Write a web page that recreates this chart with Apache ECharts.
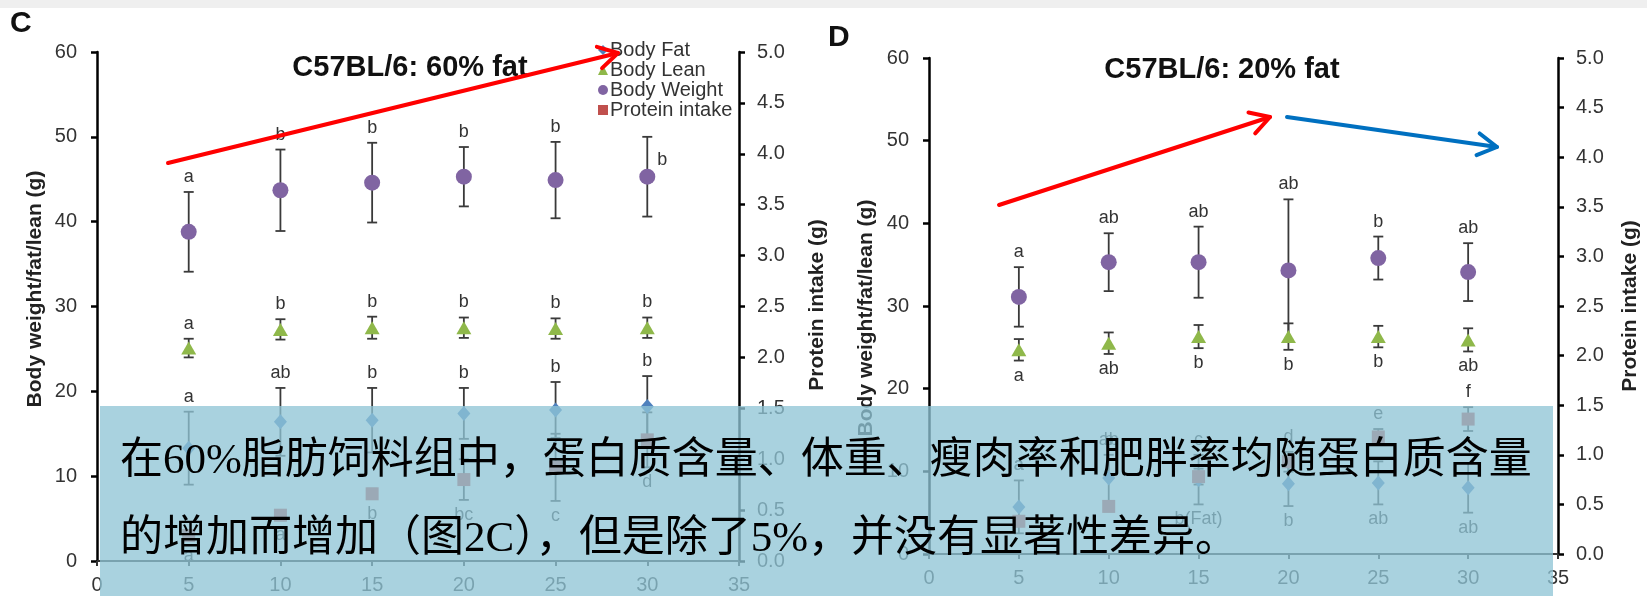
<!DOCTYPE html>
<html>
<head>
<meta charset="utf-8">
<script src="https://cdn.jsdelivr.net/npm/echarts@6/dist/echarts.min.js"></script>
<style>
  html, body { margin: 0; padding: 0; background: #ffffff; }
  #chart { width: 1647px; height: 596px; }
</style>
</head>
<body>
<div id="chart"></div>
<script>
// Dietary protein content (%) on the x axis
const proteinLevels = [5, 10, 15, 20, 25, 30];
const xTicks = [0, 5, 10, 15, 20, 25, 30, 35];

// Panel C — C57BL/6 on 60% fat diet (g)
const hfFat = [13.3, 16.4, 16.6, 17.4, 17.8, 18.2];
const hfFatErr = [4.3, 4.0, 3.8, 3.0, 3.3, 3.6];
const hfFatLetters = ['a', 'ab', 'b', 'b', 'b', 'b'];
const hfLean = [25.1, 27.3, 27.5, 27.5, 27.4, 27.5];
const hfLeanErr = [1.1, 1.2, 1.3, 1.2, 1.2, 1.2];
const hfLeanLetters = ['a', 'b', 'b', 'b', 'b', 'b'];
const hfWeight = [38.8, 43.7, 44.6, 45.3, 44.9, 45.3];
const hfWeightErr = [4.7, 4.8, 4.7, 3.5, 4.5, 4.7];
const hfWeightLetters = ['a', 'b', 'b', 'b', 'b', 'b'];
const hfProtein = [0.25, 0.45, 0.66, 0.80, 0.92, 1.19];
const hfProteinErr = [0.05, 0.05, 0.05, 0.20, 0.33, 0.27];
const hfProteinLetters = ['a', 'a', 'b', 'bc', 'c', 'd'];

// Panel D — C57BL/6 on 20% fat diet (g)
const lfFat = [5.7, 9.2, 9.0, 8.5, 8.6, 8.0];
const lfFatErr = [3.2, 2.8, 3.0, 2.7, 2.6, 3.0];
const lfFatLetters = ['a', 'ab', 'b(Fat)', 'b', 'ab', 'ab'];
const lfLean = [24.7, 25.5, 26.3, 26.3, 26.3, 25.9];
const lfLeanErr = [1.3, 1.3, 1.4, 1.6, 1.3, 1.4];
const lfLeanLetters = ['a', 'ab', 'b', 'b', 'b', 'ab'];
const lfWeight = [31.1, 35.3, 35.3, 34.3, 35.8, 34.1];
const lfWeightErr = [3.6, 3.5, 4.3, 8.6, 2.6, 3.5];
const lfWeightLetters = ['a', 'ab', 'ab', 'ab', 'b', 'ab'];
const lfProtein = [0.33, 0.48, 0.78, 0.93, 1.18, 1.36];
const lfProteinErr = [0.05, 0.05, 0.08, 0.10, 0.08, 0.12];
const lfProteinLetters = ['a', 'b', 'c', 'd', 'e', 'f'];

const FONT = '"Liberation Sans", Arial, sans-serif';
const CAPTION_FONT = '43px "Liberation Serif", "Noto Sans CJK SC", serif';
const COLORS = {
  fat: '#4f81bd',
  lean: '#8fb84a',
  weight: '#8064a2',
  protein: '#c0504d',
  bar: '#3a3a3a',
  text: '#333333'
};

const chart = echarts.init(document.getElementById('chart'));

function points(values) {
  return proteinLevels.map((x, i) => [x, values[i]]);
}

// Error bars with significance letters drawn in the series' own coordinates.
// side: 'top' | 'bottom' | 'right'; avoidTop: optional values whose upper
// whiskers the letter should also clear (same axis units).
function errorBars(name, xIdx, yIdx, values, errors, letters, cfg) {
  return {
    type: 'custom',
    name: name,
    xAxisIndex: xIdx,
    yAxisIndex: yIdx,
    silent: true,
    z: 2,
    data: proteinLevels.map((x, i) => [x, values[i], errors[i], i]),
    encode: { x: 0, y: 1 },
    renderItem: function (params, api) {
      const x = api.value(0), v = api.value(1), e = api.value(2), i = api.value(3);
      const top = api.coord([x, v + e]);
      const bot = api.coord([x, v - e]);
      const cap = 5;
      const line = { stroke: COLORS.bar, lineWidth: 1.8 };
      const children = [
        { type: 'line', shape: { x1: top[0], y1: top[1], x2: bot[0], y2: bot[1] }, style: line },
        { type: 'line', shape: { x1: top[0] - cap, y1: top[1], x2: top[0] + cap, y2: top[1] }, style: line },
        { type: 'line', shape: { x1: bot[0] - cap, y1: bot[1], x2: bot[0] + cap, y2: bot[1] }, style: line }
      ];
      const side = (cfg.sides && cfg.sides[i]) || cfg.side;
      let lx = top[0], ly, align = 'center';
      if (side === 'top') {
        let t = top[1];
        if (cfg.avoidTop) t = Math.min(t, api.coord([x, cfg.avoidTop[i]])[1]);
        ly = t - 15;
      } else if (side === 'bottom') {
        ly = bot[1] + 15;
      } else {
        lx = top[0] + 10; ly = top[1] + 23; align = 'left';
      }
      children.push({
        type: 'text',
        style: {
          text: letters[i], x: lx, y: ly, align: align, verticalAlign: 'middle',
          fill: COLORS.text, font: '18px ' + FONT
        }
      });
      return { type: 'group', children: children };
    }
  };
}

function scatter(name, xIdx, yIdx, values, symbol, size, color) {
  return {
    type: 'scatter',
    name: name,
    xAxisIndex: xIdx,
    yAxisIndex: yIdx,
    symbol: symbol,
    symbolSize: size,
    z: 3,
    itemStyle: { color: color, opacity: 1 },
    data: points(values)
  };
}

const axisLine = { show: true, lineStyle: { color: '#000', width: 2.5 } };
const axisTick = { show: true, inside: false, length: 6, lineStyle: { color: '#000', width: 2.5 } };

function xAxis(gridIndex) {
  return {
    type: 'value', gridIndex: gridIndex, min: 0, max: 35, interval: 5,
    axisLine: { show: true, lineStyle: { color: '#333', width: 2 } },
    axisTick: { show: true, length: 5, lineStyle: { color: '#333', width: 2 } },
    splitLine: { show: false },
    axisLabel: { color: COLORS.text, fontSize: 20, fontFamily: FONT, margin: 14 }
  };
}
function leftAxis(gridIndex) {
  return {
    type: 'value', gridIndex: gridIndex, position: 'left', min: 0, max: 60, interval: 10,
    axisLine: axisLine, axisTick: axisTick, splitLine: { show: false },
    axisLabel: { color: COLORS.text, fontSize: 20, fontFamily: FONT, margin: 20 }
  };
}
function rightAxis(gridIndex) {
  return {
    type: 'value', gridIndex: gridIndex, position: 'right', min: 0, max: 5, interval: 0.5,
    axisLine: axisLine, axisTick: axisTick, splitLine: { show: false },
    axisLabel: {
      color: COLORS.text, fontSize: 20, fontFamily: FONT, margin: 18,
      formatter: v => v.toFixed(1)
    }
  };
}

function arrow(x1, y1, x2, y2, color) {
  const ang = Math.atan2(y2 - y1, x2 - x1);
  const len = 22, spread = 0.52;
  const a1 = [x2 - len * Math.cos(ang - spread), y2 - len * Math.sin(ang - spread)];
  const a2 = [x2 - len * Math.cos(ang + spread), y2 - len * Math.sin(ang + spread)];
  const st = { stroke: color, lineWidth: 4, lineCap: 'round', lineJoin: 'round', fill: null };
  return [
    { type: 'line', z: 50, shape: { x1: x1, y1: y1, x2: x2, y2: y2 }, style: st },
    { type: 'polyline', z: 50, shape: { points: [a1, [x2, y2], a2] }, style: st }
  ];
}

function vTitle(text, x, y) {
  return {
    type: 'text', x: x, y: y, rotation: Math.PI / 2, z: 10,
    style: { text: text, align: 'center', verticalAlign: 'middle', fill: '#222', font: 'bold 21px ' + FONT }
  };
}

const series = [
  // markers first so the legend takes their symbols and colours
  scatter('Body Fat', 0, 0, hfFat, 'diamond', [13, 15], COLORS.fat),
  scatter('Body Lean', 0, 0, hfLean, 'triangle', [15, 13], COLORS.lean),
  scatter('Body Weight', 0, 0, hfWeight, 'circle', 16, COLORS.weight),
  scatter('Protein intake', 0, 1, hfProtein, 'rect', 13, COLORS.protein),
  scatter('Body Fat', 1, 2, lfFat, 'diamond', [13, 15], COLORS.fat),
  scatter('Body Lean', 1, 2, lfLean, 'triangle', [15, 13], COLORS.lean),
  scatter('Body Weight', 1, 2, lfWeight, 'circle', 16, COLORS.weight),
  scatter('Protein intake', 1, 3, lfProtein, 'rect', 13, COLORS.protein),
  // 60% fat whiskers and letters
  errorBars('Body Fat', 0, 0, hfFat, hfFatErr, hfFatLetters, { side: 'top' }),
  errorBars('Body Lean', 0, 0, hfLean, hfLeanErr, hfLeanLetters, { side: 'top' }),
  errorBars('Body Weight', 0, 0, hfWeight, hfWeightErr, hfWeightLetters,
            { side: 'top', sides: ['top', 'top', 'top', 'top', 'top', 'right'] }),
  errorBars('Protein intake', 0, 1, hfProtein, hfProteinErr, hfProteinLetters, { side: 'bottom' }),
  // 20% fat whiskers and letters
  errorBars('Body Fat', 1, 2, lfFat, lfFatErr, lfFatLetters,
            { side: 'bottom', sides: ['top', 'top', 'bottom', 'bottom', 'bottom', 'bottom'] }),
  errorBars('Body Lean', 1, 2, lfLean, lfLeanErr, lfLeanLetters, { side: 'bottom' }),
  errorBars('Body Weight', 1, 2, lfWeight, lfWeightErr, lfWeightLetters, { side: 'top' }),
  errorBars('Protein intake', 1, 3, lfProtein, lfProteinErr, lfProteinLetters,
            { side: 'top', avoidTop: lfFat.map((v, i) => (v + lfFatErr[i]) * 5 / 60) })
];

const option = {
  backgroundColor: '#ffffff',
  animation: false,
  grid: [
    { left: 97, top: 52, width: 642, height: 509 },
    { left: 929, top: 58, width: 629, height: 496 }
  ],
  xAxis: [xAxis(0), xAxis(1)],
  yAxis: [leftAxis(0), rightAxis(0), leftAxis(1), rightAxis(1)],
  legend: {
    orient: 'vertical', left: 598, top: 40, padding: 0, itemGap: 0,
    itemWidth: 10, itemHeight: 10, itemStyle: { borderWidth: 0 },
    selectedMode: false,
    data: [
      { name: 'Body Fat', icon: 'diamond', itemStyle: { color: COLORS.fat } },
      { name: 'Body Lean', icon: 'triangle', itemStyle: { color: COLORS.lean } },
      { name: 'Body Weight', icon: 'circle', itemStyle: { color: COLORS.weight } },
      { name: 'Protein intake', icon: 'rect', itemStyle: { color: COLORS.protein } }
    ],
    textStyle: { color: COLORS.text, fontSize: 20, fontFamily: FONT, lineHeight: 20, padding: [0, 0, 0, -3] }
  },
  series: series,
  graphic: [].concat(
    [
      { type: 'rect', z: 0, shape: { x: 0, y: 0, width: 1647, height: 8 }, style: { fill: '#efefef' } },
      { type: 'text', x: 10, y: 24, z: 10, style: { text: 'C', verticalAlign: 'middle', fill: '#111', font: 'bold 30px ' + FONT } },
      { type: 'text', x: 828, y: 38, z: 10, style: { text: 'D', verticalAlign: 'middle', fill: '#111', font: 'bold 30px ' + FONT } },
      { type: 'text', x: 410, y: 68, z: 10, style: { text: 'C57BL/6: 60% fat', align: 'center', verticalAlign: 'middle', fill: '#111', font: 'bold 29px ' + FONT } },
      { type: 'text', x: 1222, y: 70, z: 10, style: { text: 'C57BL/6: 20% fat', align: 'center', verticalAlign: 'middle', fill: '#111', font: 'bold 29px ' + FONT } },
      vTitle('Body weight/fat/lean (g)', 35, 289),
      vTitle('Protein intake (g)', 817, 305),
      vTitle('Body weight/fat/lean (g)', 866, 318),
      vTitle('Protein intake (g)', 1630, 306)
    ],
    arrow(168, 163, 618, 53, '#ff0000'),
    arrow(999, 205, 1270, 117, '#ff0000'),
    arrow(1287, 117, 1497, 147, '#0070c0'),
    [
      { type: 'rect', z: 100, shape: { x: 100, y: 406, width: 1453, height: 190 },
        style: { fill: 'rgba(143,197,214,0.77)' } },
      { type: 'text', x: 120, y: 462, z: 101,
        style: { text: '在60%脂肪饲料组中，蛋白质含量、体重、瘦肉率和肥胖率均随蛋白质含量',
                 verticalAlign: 'middle', fill: '#000', font: CAPTION_FONT } },
      { type: 'text', x: 120, y: 540, z: 101,
        style: { text: '的增加而增加（图2C），但是除了5%，并没有显著性差异。',
                 verticalAlign: 'middle', fill: '#000', font: CAPTION_FONT } }
    ]
  )
};

chart.setOption(option);
</script>
</body>
</html>
